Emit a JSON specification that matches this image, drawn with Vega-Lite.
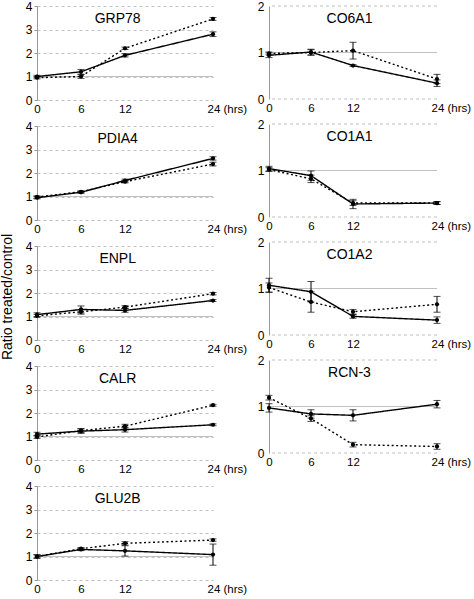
{
  "$schema": "https://vega.github.io/schema/vega-lite/v6.json",
  "padding": {"left": 0, "top": 0, "right": 0, "bottom": 0},
  "config": {
    "font": "Liberation Sans",
    "view": {"stroke": null},
    "axis": {"labelFont": "Liberation Sans", "labelFontSize": 12, "labelColor": "black"},
    "axisY": {"labelOverlap": false},
    "axisX": {"labelOverlap": false, "labelFlush": false, "labelFontSize": 11.5}
  },
  "datasets": {
    "d": [
      {"gene": "GRP78", "time": 0, "series": "A", "value": 1.0, "err": 0.05},
      {"gene": "GRP78", "time": 6, "series": "A", "value": 1.2, "err": 0.1},
      {"gene": "GRP78", "time": 12, "series": "A", "value": 1.9, "err": 0.07},
      {"gene": "GRP78", "time": 24, "series": "A", "value": 2.8, "err": 0.1},
      {"gene": "GRP78", "time": 0, "series": "B", "value": 0.95, "err": 0.05},
      {"gene": "GRP78", "time": 6, "series": "B", "value": 1.0, "err": 0.08},
      {"gene": "GRP78", "time": 12, "series": "B", "value": 2.2, "err": 0.05},
      {"gene": "GRP78", "time": 24, "series": "B", "value": 3.45, "err": 0.06},
      {"gene": "PDIA4", "time": 0, "series": "A", "value": 0.95, "err": 0.05},
      {"gene": "PDIA4", "time": 6, "series": "A", "value": 1.18, "err": 0.04},
      {"gene": "PDIA4", "time": 12, "series": "A", "value": 1.68, "err": 0.06},
      {"gene": "PDIA4", "time": 24, "series": "A", "value": 2.62, "err": 0.07},
      {"gene": "PDIA4", "time": 0, "series": "B", "value": 0.98, "err": 0.05},
      {"gene": "PDIA4", "time": 6, "series": "B", "value": 1.2, "err": 0.04},
      {"gene": "PDIA4", "time": 12, "series": "B", "value": 1.63, "err": 0.05},
      {"gene": "PDIA4", "time": 24, "series": "B", "value": 2.38, "err": 0.08},
      {"gene": "ENPL", "time": 0, "series": "A", "value": 1.08, "err": 0.08},
      {"gene": "ENPL", "time": 6, "series": "A", "value": 1.3, "err": 0.15},
      {"gene": "ENPL", "time": 12, "series": "A", "value": 1.26, "err": 0.08},
      {"gene": "ENPL", "time": 24, "series": "A", "value": 1.68, "err": 0.04},
      {"gene": "ENPL", "time": 0, "series": "B", "value": 1.03, "err": 0.06},
      {"gene": "ENPL", "time": 6, "series": "B", "value": 1.2, "err": 0.1},
      {"gene": "ENPL", "time": 12, "series": "B", "value": 1.4, "err": 0.06},
      {"gene": "ENPL", "time": 24, "series": "B", "value": 1.97, "err": 0.05},
      {"gene": "CALR", "time": 0, "series": "A", "value": 1.1, "err": 0.08},
      {"gene": "CALR", "time": 6, "series": "A", "value": 1.23, "err": 0.1},
      {"gene": "CALR", "time": 12, "series": "A", "value": 1.29, "err": 0.1},
      {"gene": "CALR", "time": 24, "series": "A", "value": 1.5, "err": 0.04},
      {"gene": "CALR", "time": 0, "series": "B", "value": 0.98, "err": 0.06},
      {"gene": "CALR", "time": 6, "series": "B", "value": 1.25, "err": 0.08},
      {"gene": "CALR", "time": 12, "series": "B", "value": 1.44, "err": 0.08},
      {"gene": "CALR", "time": 24, "series": "B", "value": 2.33, "err": 0.04},
      {"gene": "GLU2B", "time": 0, "series": "A", "value": 1.0, "err": 0.08},
      {"gene": "GLU2B", "time": 6, "series": "A", "value": 1.3, "err": 0.05},
      {"gene": "GLU2B", "time": 12, "series": "A", "value": 1.24, "err": 0.22},
      {"gene": "GLU2B", "time": 24, "series": "A", "value": 1.08, "err": 0.45},
      {"gene": "GLU2B", "time": 0, "series": "B", "value": 1.0, "err": 0.06},
      {"gene": "GLU2B", "time": 6, "series": "B", "value": 1.33, "err": 0.05},
      {"gene": "GLU2B", "time": 12, "series": "B", "value": 1.56, "err": 0.07},
      {"gene": "GLU2B", "time": 24, "series": "B", "value": 1.7, "err": 0.05},
      {"gene": "CO6A1", "time": 0, "series": "A", "value": 0.94, "err": 0.05},
      {"gene": "CO6A1", "time": 6, "series": "A", "value": 1.01, "err": 0.06},
      {"gene": "CO6A1", "time": 12, "series": "A", "value": 0.72, "err": 0.02},
      {"gene": "CO6A1", "time": 24, "series": "A", "value": 0.34, "err": 0.07},
      {"gene": "CO6A1", "time": 0, "series": "B", "value": 0.98, "err": 0.03},
      {"gene": "CO6A1", "time": 6, "series": "B", "value": 1.0, "err": 0.06},
      {"gene": "CO6A1", "time": 12, "series": "B", "value": 1.04, "err": 0.18},
      {"gene": "CO6A1", "time": 24, "series": "B", "value": 0.43, "err": 0.1},
      {"gene": "CO1A1", "time": 0, "series": "A", "value": 1.04, "err": 0.05},
      {"gene": "CO1A1", "time": 6, "series": "A", "value": 0.89, "err": 0.1},
      {"gene": "CO1A1", "time": 12, "series": "A", "value": 0.28, "err": 0.1},
      {"gene": "CO1A1", "time": 24, "series": "A", "value": 0.3, "err": 0.03},
      {"gene": "CO1A1", "time": 0, "series": "B", "value": 1.02, "err": 0.04},
      {"gene": "CO1A1", "time": 6, "series": "B", "value": 0.82, "err": 0.08},
      {"gene": "CO1A1", "time": 12, "series": "B", "value": 0.3, "err": 0.05},
      {"gene": "CO1A1", "time": 24, "series": "B", "value": 0.3, "err": 0.03},
      {"gene": "CO1A2", "time": 0, "series": "A", "value": 1.07, "err": 0.15},
      {"gene": "CO1A2", "time": 6, "series": "A", "value": 0.93, "err": 0.22},
      {"gene": "CO1A2", "time": 12, "series": "A", "value": 0.4, "err": 0.04},
      {"gene": "CO1A2", "time": 24, "series": "A", "value": 0.32, "err": 0.07},
      {"gene": "CO1A2", "time": 0, "series": "B", "value": 1.02, "err": 0.1},
      {"gene": "CO1A2", "time": 6, "series": "B", "value": 0.71, "err": 0.22},
      {"gene": "CO1A2", "time": 12, "series": "B", "value": 0.5, "err": 0.05},
      {"gene": "CO1A2", "time": 24, "series": "B", "value": 0.66, "err": 0.17},
      {"gene": "RCN-3", "time": 0, "series": "A", "value": 0.97, "err": 0.09},
      {"gene": "RCN-3", "time": 6, "series": "A", "value": 0.84, "err": 0.09},
      {"gene": "RCN-3", "time": 12, "series": "A", "value": 0.81, "err": 0.12},
      {"gene": "RCN-3", "time": 24, "series": "A", "value": 1.05, "err": 0.08},
      {"gene": "RCN-3", "time": 0, "series": "B", "value": 1.19, "err": 0.05},
      {"gene": "RCN-3", "time": 6, "series": "B", "value": 0.74, "err": 0.06},
      {"gene": "RCN-3", "time": 12, "series": "B", "value": 0.18, "err": 0.05},
      {"gene": "RCN-3", "time": 24, "series": "B", "value": 0.14, "err": 0.06}
    ]
  },
  "spacing": 10,
  "hconcat": [
    {
      "data": {"name": "d"},
      "transform": [{"filter": {"field": "gene", "oneOf": ["GRP78", "PDIA4", "ENPL", "CALR", "GLU2B"]}}],
      "facet": {
        "row": {
          "field": "gene", "type": "nominal",
          "sort": ["GRP78", "PDIA4", "ENPL", "CALR", "GLU2B"],
          "title": "Ratio treated/control",
          "header": {"labels": false, "titleFontSize": 14, "titleFontWeight": "normal", "titleFont": "Liberation Sans", "titlePadding": 0}
        }
      },
      "spacing": 5,
      "resolve": {"axis": {"x": "independent", "y": "independent"}},
      "spec": {
        "width": 176,
        "height": 94,
        "layer": [
          {
            "transform": [{"filter": "datum.time == 0 && datum.series == 'A'"}],
            "mark": {"type": "rule", "color": "#c0c0c0", "strokeWidth": 1},
            "encoding": {
              "y": {"datum": 1, "type": "quantitative",
                "scale": {"domain": [0, 4], "nice": false},
                "axis": {"title": null, "values": [0, 1, 2, 3, 4], "tickCount": 10, "labelExpr": "toString(datum.value)", "labelOverlap": false, "domain": true, "domainColor": "#999999", "ticks": true, "tickSize": 3, "tickColor": "#999999", "labelPadding": 2,
                  "grid": true, "gridColor": "#c0c0c0", "gridDash": [3, 3]}}
            }
          },
          {
            "mark": {"type": "line", "color": "black", "strokeWidth": 1.4},
            "encoding": {
              "x": {"field": "time", "type": "quantitative",
                "scale": {"domain": [0, 24], "nice": false},
                "axis": {"title": null, "values": [0, 6, 12, 24], "tickCount": 10, "domain": false, "ticks": false, "grid": false, "labelPadding": 3,
                  "labelExpr": "datum.value == 24 ? '24 (hrs)' : datum.label",
                  "labelAlign": {"condition": {"test": "datum.value == 24", "value": "left"}, "value": "center"},
                  "labelOffset": {"condition": {"test": "datum.value == 24", "value": -6}, "value": 0}}},
              "y": {"field": "value", "type": "quantitative"},
              "strokeDash": {"field": "series", "type": "nominal", "scale": {"domain": ["A", "B"], "range": [[1, 0], [2, 2.5]]}, "legend": null}
            }
          },
          {
            "mark": {"type": "errorbar", "ticks": {"size": 7, "color": "black"}, "rule": {"color": "black", "strokeWidth": 1}},
            "encoding": {
              "x": {"field": "time", "type": "quantitative"},
              "y": {"field": "value", "type": "quantitative"},
              "yError": {"field": "err"},
              "detail": {"field": "series"}
            }
          },
          {
            "mark": {"type": "point", "filled": true, "color": "black", "size": 18, "opacity": 1},
            "encoding": {
              "x": {"field": "time", "type": "quantitative"},
              "y": {"field": "value", "type": "quantitative"}
            }
          },
          {
            "transform": [{"filter": "datum.time == 0 && datum.series == 'A'"}],
            "mark": {"type": "text", "fontSize": 14, "color": "black", "align": "center", "baseline": "middle"},
            "encoding": {
              "x": {"datum": 11},
              "y": {"datum": 3.45},
              "text": {"field": "gene"}
            }
          }
        ]
      }
    },
    {
      "data": {"name": "d"},
      "transform": [{"filter": {"field": "gene", "oneOf": ["CO6A1", "CO1A1", "CO1A2", "RCN-3"]}}],
      "facet": {
        "row": {
          "field": "gene", "type": "nominal",
          "sort": ["CO6A1", "CO1A1", "CO1A2", "RCN-3"],
          "title": null,
          "header": {"labels": false}
        }
      },
      "spacing": 4,
      "resolve": {"axis": {"x": "independent", "y": "independent"}},
      "spec": {
        "width": 168,
        "height": 93,
        "layer": [
          {
            "transform": [{"filter": "datum.time == 0 && datum.series == 'A'"}],
            "mark": {"type": "rule", "color": "#c0c0c0", "strokeWidth": 1},
            "encoding": {
              "y": {"datum": 1, "type": "quantitative",
                "scale": {"domain": [0, 2], "nice": false},
                "axis": {"title": null, "values": [0, 0.5, 1, 1.5, 2], "tickCount": 10, "labelExpr": "datum.value == 0.5 || datum.value == 1.5 ? '' : toString(datum.value)", "labelOverlap": false, "domain": true, "domainColor": "#999999", "ticks": false, "labelPadding": 5,
                  "grid": false}}
            }
          },
          {
            "transform": [{"filter": "datum.time == 0 && datum.series == 'A'"}],
            "mark": {"type": "rule", "color": "#c0c0c0", "strokeWidth": 1, "strokeDash": [3, 3]},
            "encoding": {
              "y": {"datum": 2, "type": "quantitative"}
            }
          },
          {
            "transform": [{"filter": "datum.time == 0 && datum.series == 'A'"}],
            "mark": {"type": "rule", "color": "#c0c0c0", "strokeWidth": 1, "strokeDash": [3, 3]},
            "encoding": {
              "y": {"datum": 0, "type": "quantitative"}
            }
          },
          {
            "mark": {"type": "line", "color": "black", "strokeWidth": 1.4},
            "encoding": {
              "x": {"field": "time", "type": "quantitative",
                "scale": {"domain": [0, 24], "nice": false},
                "axis": {"title": null, "values": [0, 6, 12, 24], "tickCount": 10, "domain": false, "ticks": false, "grid": false, "labelPadding": 3,
                  "labelExpr": "datum.value == 24 ? '24 (hrs)' : datum.label",
                  "labelAlign": {"condition": {"test": "datum.value == 24", "value": "left"}, "value": "center"},
                  "labelOffset": {"condition": {"test": "datum.value == 24", "value": -6}, "value": 0}}},
              "y": {"field": "value", "type": "quantitative"},
              "strokeDash": {"field": "series", "type": "nominal", "scale": {"domain": ["A", "B"], "range": [[1, 0], [2, 2.5]]}, "legend": null}
            }
          },
          {
            "mark": {"type": "errorbar", "ticks": {"size": 7, "color": "black"}, "rule": {"color": "black", "strokeWidth": 1}},
            "encoding": {
              "x": {"field": "time", "type": "quantitative"},
              "y": {"field": "value", "type": "quantitative"},
              "yError": {"field": "err"},
              "detail": {"field": "series"}
            }
          },
          {
            "mark": {"type": "point", "filled": true, "color": "black", "size": 18, "opacity": 1},
            "encoding": {
              "x": {"field": "time", "type": "quantitative"},
              "y": {"field": "value", "type": "quantitative"}
            }
          },
          {
            "transform": [{"filter": "datum.time == 0 && datum.series == 'A'"}],
            "mark": {"type": "text", "fontSize": 14, "color": "black", "align": "center", "baseline": "middle"},
            "encoding": {
              "x": {"datum": 11.5},
              "y": {"datum": 1.72},
              "text": {"field": "gene"}
            }
          }
        ]
      }
    }
  ]
}
